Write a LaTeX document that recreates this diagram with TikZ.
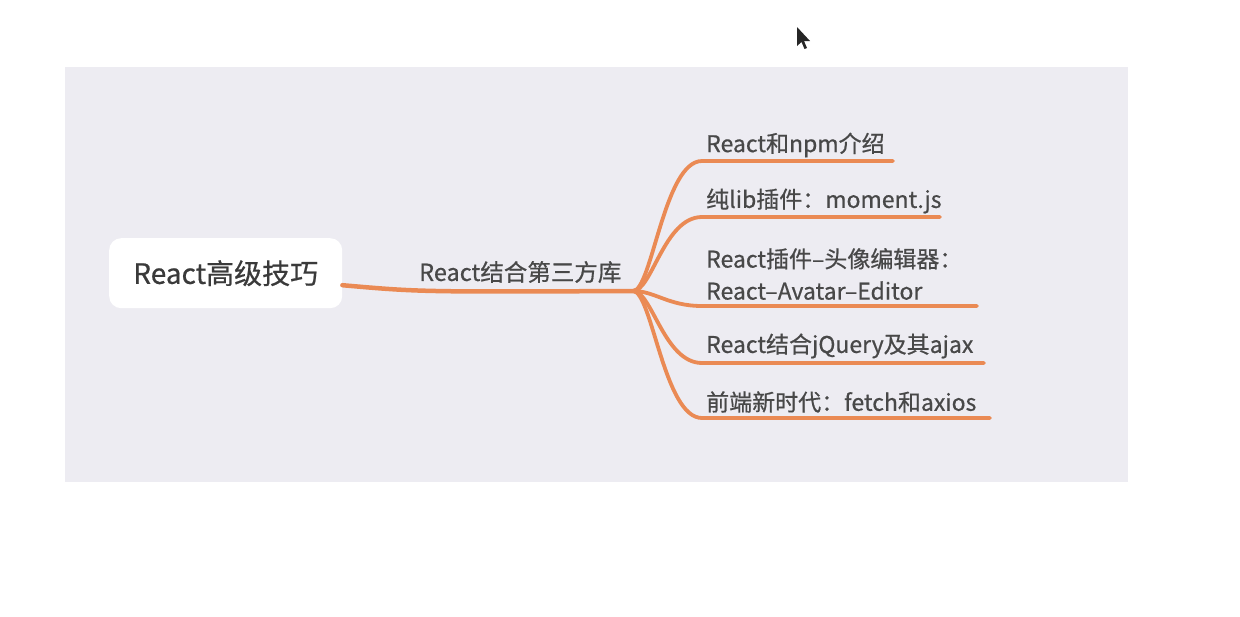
\documentclass[tikz,border=0pt]{standalone}
\usepackage{fontspec}
\setmainfont{Noto Sans CJK SC}[RawFeature={embolden=0.6}]
\definecolor{bg}{RGB}{237,236,242}
\definecolor{br}{RGB}{234,138,84}
\definecolor{tx}{RGB}{72,72,72}
\begin{document}
\begin{tikzpicture}[x=1pt,y=-1pt,
  rootbox/.style={fill=white,rounded corners=12pt,inner sep=0pt,text=tx!80!black,font=\fontsize{28}{32}\selectfont},
  lbl/.style={inner sep=0pt,text=tx,font=\fontsize{23.5}{27}\selectfont},
  leaftext/.style={inner sep=0pt,text=tx,align=left,font=\fontsize{23}{32}\selectfont},
  trunk/.style={draw=br,line width=4.5pt,line cap=round},
  twig/.style={draw=br,line width=3.8pt,line cap=round}]
\useasboundingbox (0,0) rectangle (1240,616);
\fill[bg] (65,67) rectangle (1128,482);
\node[rootbox,minimum width=233pt,minimum height=70pt,anchor=north west] (root) at (109,238) {React高级技巧};
\node[lbl,anchor=west] (main) at (419,272) {React结合第三方库};
\coordinate (hub) at (633,291);
\draw[trunk] ([yshift=-12pt]root.east) .. controls (420,292) .. (hub);
% leaves
\node[leaftext,anchor=west] (c1) at (706,145) {React和npm介绍};
\node[leaftext,anchor=west] (c2) at (706,201) {纯lib插件：moment.js};
\node[leaftext,anchor=west] (c3) at (706,274) {React插件–头像编辑器：\\React–Avatar–Editor};
\node[leaftext,anchor=west] (c4) at (706,346) {React结合jQuery及其ajax};
\node[leaftext,anchor=west] (c5) at (706,402) {前端新时代：fetch和axios};
\coordinate (s1) at (702,161); \coordinate (e1) at (893,161);
\coordinate (s2) at (702,217); \coordinate (e2) at (940,217);
\coordinate (s3) at (702,306); \coordinate (e3) at (977,306);
\coordinate (s4) at (702,363); \coordinate (e4) at (984,363);
\coordinate (s5) at (702,418); \coordinate (e5) at (990,418);
\draw[twig] (hub) .. controls (652,291) and (664,161) .. (s1) -- (e1);
\draw[twig] (hub) .. controls (652,291) and (664,217) .. (s2) -- (e2);
\draw[twig] (hub) .. controls (655,291) and (668,306) .. (s3) -- (e3);
\draw[twig] (hub) .. controls (652,291) and (664,363) .. (s4) -- (e4);
\draw[twig] (hub) .. controls (652,291) and (664,418) .. (s5) -- (e5);
% mouse cursor
\fill[black!85] (797,27) -- (797,46) -- (801.5,42) -- (804.5,49) -- (807,48) -- (804,41) -- (810,41) -- cycle;
\end{tikzpicture}
\end{document}
